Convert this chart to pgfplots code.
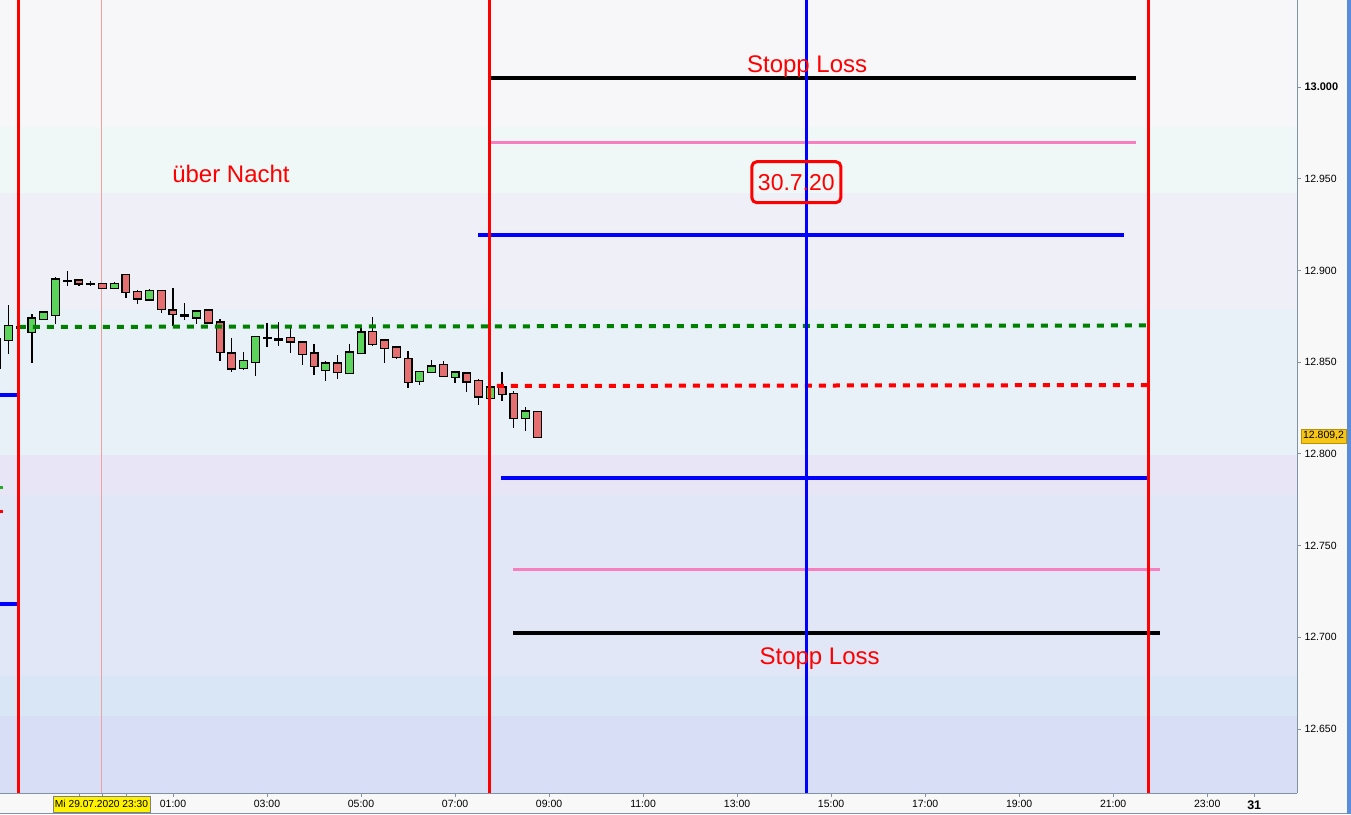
\documentclass[border=0pt]{standalone}
\usepackage{pgfplots}
\pgfplotsset{compat=1.18}
\usepackage{pgfplotstable}
\usepackage{fontspec}
\setmainfont{Liberation Sans}

\definecolor{outerbg}{HTML}{F8F8F8}
\definecolor{bandA}{HTML}{F7F7F9}
\definecolor{bandB}{HTML}{EFF7F7}
\definecolor{bandC}{HTML}{EFEFF8}
\definecolor{bandD}{HTML}{E8F0F8}
\definecolor{bandE}{HTML}{E8E6F6}
\definecolor{bandF}{HTML}{E1E7F6}
\definecolor{bandG}{HTML}{D9E6F6}
\definecolor{bandH}{HTML}{D8DEF6}
\definecolor{axisgray}{HTML}{7F93A4}
\definecolor{pinkline}{HTML}{F77FBF}
\definecolor{dkgreen}{HTML}{008000}
\definecolor{upgreen}{HTML}{5CD45C}
\definecolor{downred}{HTML}{E56E70}
\definecolor{crossred}{HTML}{F0A0A0}
\definecolor{gold}{HTML}{F5C518}
\definecolor{rightblue}{HTML}{5A8CDC}
\definecolor{mygreen}{HTML}{22AA22}

\pgfplotstableread{
t o c h l
-2.5 12862.2 12869.5 12881.1 12854.4
-2.25 12868.9 12868.9 12869.5 12868.5
-2.0 12866.7 12873.8 12876.2 12849.6
-1.75 12873.8 12877.1 12877.8 12873.8
-1.5 12876.0 12895.1 12896.2 12870.9
-1.25 12894.3 12894.3 12899.6 12891.6
-0.75 12892.5 12892.5 12894.0 12891.6
-0.25 12890.7 12892.4 12894.0 12890.7
0.5 12884.2 12888.6 12890.2 12884.2
1.25 12875.5 12875.5 12882.6 12873.3
1.5 12874.4 12877.6 12878.7 12870.6
2.5 12847.1 12850.4 12855.8 12845.5
2.75 12850.4 12864.0 12864.6 12842.7
3.0 12863.3 12863.3 12871.1 12858.3
3.25 12862.5 12862.5 12871.8 12858.9
4.25 12846.0 12849.3 12850.9 12840.0
4.75 12844.4 12855.3 12859.7 12844.4
5.0 12855.3 12866.2 12868.4 12855.3
6.25 12839.5 12844.4 12844.9 12837.6
6.5 12844.9 12847.7 12850.9 12844.9
7.0 12842.2 12844.4 12844.9 12838.9
7.75 12830.8 12836.2 12836.2 12830.8
8.5 12819.8 12823.1 12825.8 12812.8
}\up

\pgfplotstableread{
t o c h l
-2.75 12862.4 12846.8 12862.6 12846.8
-1.0 12894.5 12892.9 12895.3 12891.6
-0.5 12892.4 12890.7 12892.4 12890.7
0 12897.8 12888.6 12897.8 12885.1
0.25 12888.0 12884.7 12889.6 12882.0
0.75 12889.1 12879.3 12889.1 12877.1
1.0 12878.2 12876.6 12890.2 12869.5
1.75 12878.2 12871.7 12878.2 12871.1
2.0 12871.7 12855.8 12873.8 12850.7
2.25 12854.7 12846.6 12863.5 12844.7
3.5 12862.9 12861.3 12868.4 12855.3
3.75 12860.7 12854.7 12861.8 12848.7
4.0 12854.7 12848.2 12860.2 12843.3
4.5 12849.3 12844.9 12853.7 12840.9
5.25 12866.7 12860.2 12874.5 12859.1
5.5 12861.8 12858.0 12861.8 12849.8
5.75 12858.0 12853.1 12858.6 12852.0
6.0 12852.0 12839.5 12856.4 12836.0
6.75 12848.7 12842.7 12850.9 12842.7
7.25 12843.8 12839.5 12844.4 12833.5
7.5 12839.5 12831.3 12840.6 12826.9
8.0 12836.2 12832.9 12844.9 12829.1
8.25 12832.4 12819.8 12834.6 12814.4
8.75 12823.1 12809.2 12823.1 12809.0
}\down

\pgfplotsset{
  wick/.style={draw=none, no markers, forget plot,
    error bars/.cd, y dir=both, y explicit, error mark=none,
    error bar style={draw=black, line width=1.3pt, solid}},
  bodyline/.style={draw=none, no markers, forget plot,
    error bars/.cd, y dir=both, y explicit, error mark=none,
    error bar style={#1, solid}},
}

\begin{document}
\begin{tikzpicture}
\fill[outerbg] (0pt,0pt) rectangle (1351pt,814pt);
\fill[rightblue] (1347pt,0pt) rectangle (1351pt,814pt);
\draw[axisgray, line width=1pt] (0pt,1pt) -- (1347pt,1pt);
\begin{axis}[
  at={(0pt,21pt)}, anchor=south west,
  scale only axis, width=1297pt, height=793pt,
  xmin=-2.68, xmax=24.91, ymin=12615.1, ymax=13047.43,
  axis x line*=bottom, axis y line*=right,
  axis line style={-, draw=axisgray, line width=1pt},
  axis on top,
  clip mode=individual,
  tick align=outside, major tick length=4pt,
  tick style={axisgray, line width=0.8pt},
  xtick={-1,-0.5,0,1,3,5,7,9,11,13,15,17,19,21,23,24},
  xticklabels={,,,01:00,03:00,05:00,07:00,09:00,11:00,13:00,15:00,17:00,19:00,21:00,23:00,{\fontsize{12.5}{13}\selectfont\textbf{31}}},
  ytick={12650,12700,12750,12800,12850,12900,12950,13000},
  yticklabels={12.650,12.700,12.750,12.800,12.850,12.900,12.950,{\fontsize{11}{12}\selectfont\textbf{13.000}}},
  xticklabel style={font=\fontsize{10.5}{12}\selectfont, text=black},
  yticklabel style={font=\fontsize{10.5}{12}\selectfont, text=black},
  /pgf/number format/assume math mode=true,
]
% background bands
\addplot[draw=none, fill=bandA, forget plot] coordinates {(-3,12978.1) (26,12978.1) (26,13060) (-3,13060)};
\addplot[draw=none, fill=bandB, forget plot] coordinates {(-3,12942.2) (26,12942.2) (26,12978.1) (-3,12978.1)};
\addplot[draw=none, fill=bandC, forget plot] coordinates {(-3,12878.9) (26,12878.9) (26,12942.2) (-3,12942.2)};
\addplot[draw=none, fill=bandD, forget plot] coordinates {(-3,12799.3) (26,12799.3) (26,12878.9) (-3,12878.9)};
\addplot[draw=none, fill=bandE, forget plot] coordinates {(-3,12777.5) (26,12777.5) (26,12799.3) (-3,12799.3)};
\addplot[draw=none, fill=bandF, forget plot] coordinates {(-3,12678.8) (26,12678.8) (26,12777.5) (-3,12777.5)};
\addplot[draw=none, fill=bandG, forget plot] coordinates {(-3,12657.0) (26,12657.0) (26,12678.8) (-3,12678.8)};
\addplot[draw=none, fill=bandH, forget plot] coordinates {(-3,12600) (26,12600) (26,12657.0) (-3,12657.0)};

% crosshair 23:30
\addplot[crossred, line width=0.8pt, forget plot] coordinates {(-0.52,12600) (-0.52,13060)};

% level lines
\addplot[black, line width=4pt, forget plot] coordinates {(7.72,13004.9) (21.49,13004.9)};
\addplot[pinkline, line width=3pt, forget plot] coordinates {(7.72,12970.0) (21.49,12970.0)};
\addplot[blue, line width=3.5pt, forget plot] coordinates {(7.49,12919.3) (21.23,12919.3)};
\addplot[blue, line width=3.5pt, forget plot] coordinates {(7.98,12786.8) (21.745,12786.8)};
\addplot[pinkline, line width=3pt, forget plot] coordinates {(8.23,12736.7) (22.0,12736.7)};
\addplot[black, line width=4pt, forget plot] coordinates {(8.23,12702.3) (22.0,12702.3)};
% left markers
\addplot[blue, line width=3.5pt, forget plot] coordinates {(-2.75,12832.1) (-2.28,12832.1)};
\addplot[blue, line width=3.5pt, forget plot] coordinates {(-2.75,12718.1) (-2.28,12718.1)};
\addplot[mygreen, line width=3pt, forget plot] coordinates {(-2.75,12781.9) (-2.615,12781.9)};
\addplot[red, line width=3pt, forget plot] coordinates {(-2.75,12768.3) (-2.615,12768.3)};

% candles: wicks
\addplot[wick] table[x=t, y expr={(\thisrow{h}+\thisrow{l})/2}, y error expr={(\thisrow{h}-\thisrow{l})/2}] {\up};
\addplot[wick] table[x=t, y expr={(\thisrow{h}+\thisrow{l})/2}, y error expr={(\thisrow{h}-\thisrow{l})/2}] {\down};
% outlines
\addplot[bodyline={draw=black, line width=9pt}] table[x=t, y expr={(\thisrow{o}+\thisrow{c})/2}, y error expr={abs(\thisrow{o}-\thisrow{c})/2+0.65}] {\up};
\addplot[bodyline={draw=black, line width=9pt}] table[x=t, y expr={(\thisrow{o}+\thisrow{c})/2}, y error expr={abs(\thisrow{o}-\thisrow{c})/2+0.65}] {\down};
% bodies
\addplot[bodyline={draw=upgreen, line width=6.6pt}] table[x=t, y expr={(\thisrow{o}+\thisrow{c})/2}, y error expr={abs(\thisrow{o}-\thisrow{c})/2}] {\up};
\addplot[bodyline={draw=downred, line width=6.6pt}] table[x=t, y expr={(\thisrow{o}+\thisrow{c})/2}, y error expr={abs(\thisrow{o}-\thisrow{c})/2}] {\down};

% dashed lines
\addplot[dkgreen, line width=4pt, dash pattern=on 7pt off 7pt, forget plot] coordinates {(-2.28,12869.2) (21.745,12870.0)};
\addplot[red, line width=4pt, dash pattern=on 7pt off 7pt, forget plot] coordinates {(7.89,12837.0) (21.745,12837.5)};

% vertical lines
\addplot[red, line width=3pt, forget plot] coordinates {(-2.277,12600) (-2.277,13060)};
\addplot[red, line width=3pt, forget plot] coordinates {(7.723,12600) (7.723,13060)};
\addplot[red, line width=3pt, forget plot] coordinates {(21.745,12600) (21.745,13060)};
\addplot[blue, line width=3pt, forget plot] coordinates {(14.468,12600) (14.468,13060)};

% annotations
\node[anchor=base, text=red, font=\fontsize{24}{26}\selectfont, inner sep=0pt] at (axis cs:14.49,13007.8) {Stopp Loss};
\node[anchor=base, text=red, font=\fontsize{24}{26}\selectfont, inner sep=0pt] at (axis cs:14.755,12685.0) {Stopp Loss};
\node[anchor=base, text=red, font=\fontsize{24}{26}\selectfont, inner sep=0pt] at (axis cs:2.234,12948.0) {über Nacht};
\node[draw=red, line width=3pt, rounded corners=5pt, text=red, font=\fontsize{23}{25}\selectfont, minimum width=89pt, minimum height=41pt, inner sep=0pt] at (axis cs:14.26,12948.1) {30.7.20};
\end{axis}
% date and price labels
\node[fill=yellow, draw=gray, line width=0.8pt, inner xsep=2pt, inner ysep=0pt, minimum height=16pt, font=\fontsize{10.2}{12}\selectfont] at (101.5pt,10pt) {Mi 29.07.2020 23:30};
\node[fill=gold, draw={rgb,255:red,190;green,145;blue,0}, line width=0.6pt, inner xsep=2pt, inner ysep=0pt, minimum height=14pt, font=\fontsize{10.5}{12}\selectfont] at (1323.5pt,378pt) {12.809,2};
\pgfresetboundingbox
\path[use as bounding box] (0pt,0pt) rectangle (1351pt,814pt);
\end{tikzpicture}
\end{document}
